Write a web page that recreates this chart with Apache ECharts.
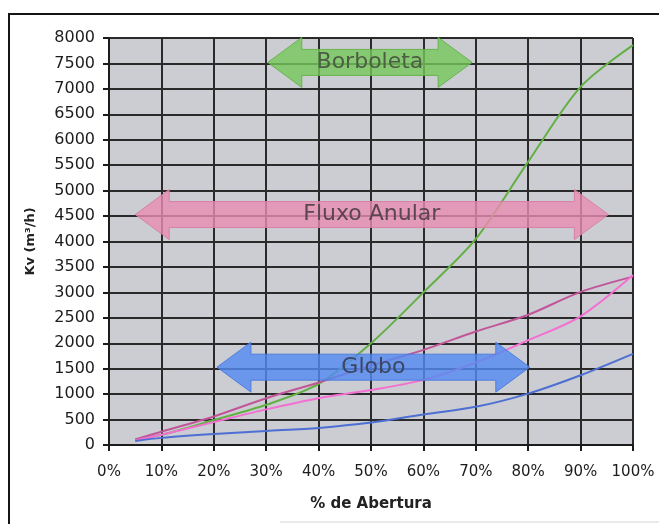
<!DOCTYPE html>
<html>
<head>
<meta charset="utf-8">
<style>
  html, body { margin: 0; padding: 0; background: #ffffff; }
  #chart { width: 659px; height: 524px; }
</style>
<script src="https://cdn.jsdelivr.net/npm/echarts@6/dist/echarts.min.js"></script>
</head>
<body>
<div id="chart"></div>
<script>
// Valve opening (%) and flow coefficient Kv (m³/h) per valve type
const abertura = [5, 10, 20, 30, 40, 50, 60, 70, 80, 90, 100];
const kvBorboleta = [110, 200, 490, 790, 1200, 2000, 3000, 4050, 5570, 7040, 7860];
const kvFluxoAnularA = [110, 260, 560, 920, 1230, 1560, 1870, 2230, 2560, 3010, 3310];
const kvFluxoAnularB = [90, 200, 450, 700, 920, 1080, 1280, 1620, 2060, 2530, 3340];
const kvGlobo = [80, 140, 215, 275, 335, 440, 600, 750, 1010, 1370, 1790];

// Range arrows: label, opening span (%), Kv level
const rangeLabels = ['Borboleta', 'Fluxo Anular', 'Globo'];
const rangeFrom = [30.3, 5.0, 20.6];
const rangeTo = [69.3, 95.3, 80.3];
const rangeLevel = [7520, 4530, 1530];
const rangeFill = ['rgba(118,200,90,0.8)', 'rgba(232,140,178,0.8)', 'rgba(84,138,240,0.82)'];
const rangeStroke = ['rgba(96,176,70,0.9)', 'rgba(214,124,162,0.9)', 'rgba(72,122,222,0.9)'];
const rangeText = ['#4b5e44', '#5c464f', '#3b4665'];

const FONT = 'DejaVu Sans';

const pairs = (vals) => abertura.map((p, i) => [p, vals[i]]);

const lineSeries = (name, vals, color) => ({
  name: name,
  type: 'line',
  data: pairs(vals),
  smooth: 0.3,
  symbol: 'none',
  lineStyle: { color: color, width: 2 },
  z: 3
});

const chart = echarts.init(document.getElementById('chart'), null, { renderer: 'canvas' });

chart.setOption({
  animation: false,
  backgroundColor: '#ffffff',
  grid: {
    left: 109, right: 26, top: 38, bottom: 79,
    show: true, backgroundColor: '#cbcdd2', borderWidth: 0
  },
  xAxis: {
    type: 'value', min: 0, max: 100, interval: 10,
    name: '% de Abertura', nameLocation: 'middle', nameGap: 52,
    nameTextStyle: { fontFamily: FONT, fontWeight: 'bold', fontSize: 15, color: '#222' },
    axisLine: { show: true, lineStyle: { color: '#1c1c1c', width: 2 } },
    axisTick: { show: true, length: 6, lineStyle: { color: '#1c1c1c', width: 2 } },
    axisLabel: { formatter: (v) => v + '%', margin: 20, fontFamily: FONT, fontSize: 15, color: '#1c1c1c' },
    splitLine: { show: true, lineStyle: { color: '#2a2a2a', width: 2 } }
  },
  yAxis: {
    type: 'value', min: 0, max: 8000, interval: 500,
    name: 'Kv (m³/h)', nameLocation: 'middle', nameGap: 72, nameRotate: 90,
    nameTextStyle: { fontFamily: FONT, fontWeight: 'bold', fontSize: 13, color: '#222' },
    axisLine: { show: true, lineStyle: { color: '#1c1c1c', width: 2 } },
    axisTick: { show: true, length: 6, lineStyle: { color: '#1c1c1c', width: 2 } },
    axisLabel: { formatter: (v) => String(v), margin: 14, fontFamily: FONT, fontSize: 16, color: '#1c1c1c' },
    splitLine: { show: true, lineStyle: { color: '#2a2a2a', width: 2 } }
  },
  series: [
    lineSeries('Borboleta', kvBorboleta, '#62b043'),
    lineSeries('Fluxo Anular A', kvFluxoAnularA, '#c2559a'),
    lineSeries('Fluxo Anular B', kvFluxoAnularB, '#f46fd2'),
    lineSeries('Globo', kvGlobo, '#4d6fd3')
  ]
});

// Double-headed block arrow outline in pixel space
function arrowPoints(x0, x1, yc, headLen, headHalf, shaftHalf) {
  return [
    [x0, yc],
    [x0 + headLen, yc - headHalf],
    [x0 + headLen, yc - shaftHalf],
    [x1 - headLen, yc - shaftHalf],
    [x1 - headLen, yc - headHalf],
    [x1, yc],
    [x1 - headLen, yc + headHalf],
    [x1 - headLen, yc + shaftHalf],
    [x0 + headLen, yc + shaftHalf],
    [x0 + headLen, yc + headHalf]
  ];
}

const graphics = [
  {
    type: 'rect', silent: true, z: 0,
    shape: { x: 9, y: 14, width: 700, height: 600 },
    style: { fill: 'none', stroke: '#151515', lineWidth: 2 }
  },
  {
    type: 'line', silent: true, z: 0,
    shape: { x1: 280, y1: 522, x2: 659, y2: 522 },
    style: { stroke: '#d4d4d4', lineWidth: 1 }
  }
];

rangeLabels.forEach((label, i) => {
  const p0 = chart.convertToPixel({ gridIndex: 0 }, [rangeFrom[i], rangeLevel[i]]);
  const p1 = chart.convertToPixel({ gridIndex: 0 }, [rangeTo[i], rangeLevel[i]]);
  const yc = p0[1];
  graphics.push({
    type: 'polygon', silent: true, z: 50,
    shape: { points: arrowPoints(p0[0], p1[0], yc, 34, 25, 13) },
    style: { fill: rangeFill[i], stroke: rangeStroke[i], lineWidth: 1 }
  });
  graphics.push({
    type: 'text', silent: true, z: 51,
    x: (p0[0] + p1[0]) / 2, y: yc,
    style: {
      text: label, fill: rangeText[i], font: '22px "' + FONT + '"',
      align: 'center', verticalAlign: 'middle'
    }
  });
});

chart.setOption({ graphic: graphics });
</script>
</body>
</html>
